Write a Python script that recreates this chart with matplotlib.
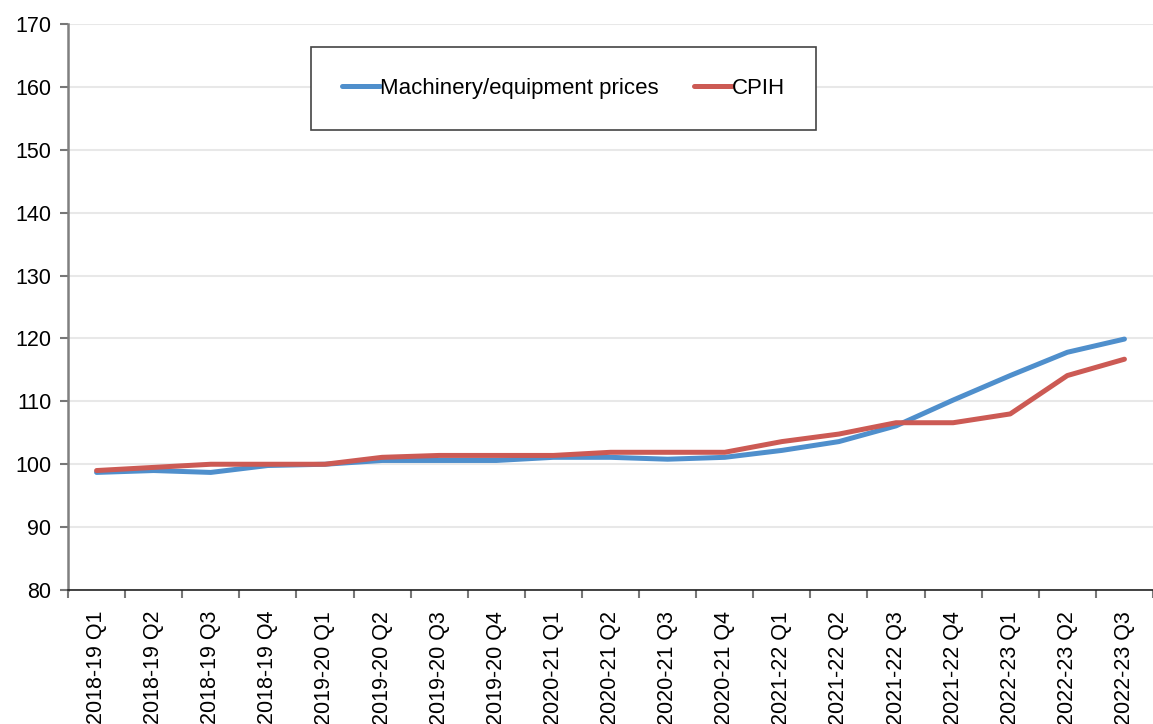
import matplotlib.pyplot as plt
import numpy as np

plt.rcParams['font.family'] = ['Liberation Sans', 'DejaVu Sans']

quarters = ['2018-19 Q1', '2018-19 Q2', '2018-19 Q3', '2018-19 Q4',
            '2019-20 Q1', '2019-20 Q2', '2019-20 Q3', '2019-20 Q4',
            '2020-21 Q1', '2020-21 Q2', '2020-21 Q3', '2020-21 Q4',
            '2021-22 Q1', '2021-22 Q2', '2021-22 Q3', '2021-22 Q4',
            '2022-23 Q1', '2022-23 Q2', '2022-23 Q3']

machinery = [98.7, 99.0, 98.7, 99.8, 100.0, 100.6, 100.6, 100.6, 101.1, 101.1,
             100.8, 101.1, 102.2, 103.6, 106.1, 110.2, 114.1, 117.8, 119.9]
cpih = [99.0, 99.5, 100.0, 100.0, 100.0, 101.1, 101.4, 101.4, 101.4, 101.9,
        101.9, 101.9, 103.6, 104.8, 106.6, 106.6, 108.0, 114.1, 116.7]

fig = plt.figure(figsize=(11.53, 7.24), dpi=100)
ax = fig.add_axes([0.059, 0.185, 0.941, 0.782])

x = np.arange(len(quarters))
ax.plot(x, machinery, color='#4f8fcc', lw=3.6, solid_capstyle='round',
        label='Machinery/equipment prices')
ax.plot(x, cpih, color='#cc5a54', lw=3.6, solid_capstyle='round', label='CPIH')

ax.set_ylim(80, 170)
ax.set_yticks(range(80, 171, 10))
ax.set_xlim(-0.5, len(quarters) - 0.5)
ax.set_xticks(x)
ax.set_xticklabels(quarters, rotation=90, fontsize=15.5)
ax.set_xticks(np.arange(-0.5, len(quarters), 1), minor=True)
ax.tick_params(axis='x', which='major', length=0, pad=15)
ax.tick_params(axis='x', which='minor', length=6, width=1.5, color='#777777')
ax.tick_params(axis='y', direction='out', length=6, width=1.5, labelsize=15.5,
               color='#777777', pad=6)

ax.grid(axis='y', color='#e8e8e8', lw=1.5)
ax.set_axisbelow(True)
for s in ['top', 'right']:
    ax.spines[s].set_visible(False)
ax.spines['left'].set_color('#808080')
ax.spines['left'].set_linewidth(1.8)
ax.spines['bottom'].set_color('#222222')
ax.spines['bottom'].set_linewidth(1.2)

# legend box placed like the original
leg = fig.legend(loc='upper left', bbox_to_anchor=(0.2697, 0.935), ncol=2, fontsize=16,
                 fancybox=False, edgecolor='#444444', framealpha=1,
                 handlelength=1.7, handletextpad=0.0, columnspacing=1.6,
                 borderpad=1.4, borderaxespad=0)
leg.get_frame().set_linewidth(1.2)

fig.savefig('out.png', dpi=100)
